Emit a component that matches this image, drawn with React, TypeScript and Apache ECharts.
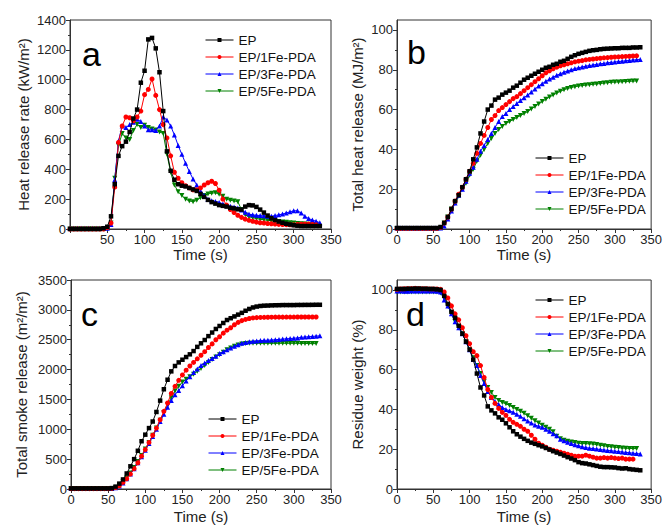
import React, { useEffect, useRef } from 'react';
import * as echarts from 'echarts';

const TIME = [0, 5, 10, 15, 20, 25, 30, 35, 40, 45, 50, 55, 60, 65, 70, 75, 80, 85, 90, 95, 100, 105, 110, 115, 120, 125, 130, 135, 140, 145, 150, 155, 160, 165, 170, 175, 180, 185, 190, 195, 200, 205, 210, 215, 220, 225, 230, 235, 240, 245, 250, 255, 260, 265, 270, 275, 280, 285, 290, 295, 300, 305, 310, 315, 320, 325, 330, 335];

const NAMES = ['EP', 'EP/1Fe-PDA', 'EP/3Fe-PDA', 'EP/5Fe-PDA'];
const COLORS = ['#000000', '#ff0000', '#0000ff', '#008000'];
const SYMBOLS = ['rect', 'circle', 'triangle', 'triangle'];
const ROTATE = [0, 0, 0, 180];

// (a) Heat release rate (kW/m2)
const HRR_EP = [
  0, 0, 0, 0, 0, 0, 0, 0, 0, 5,
  15, 85, 300, 490, 555, 585, 650, 740, 800, 980,
  1060, 1270, 1280, 1210, 1050, 790, 520, 390, 330, 300,
  290, 285, 275, 265, 255, 235, 215, 195, 180, 170,
  160, 155, 150, 142, 138, 132, 130, 150, 160, 158,
  148, 130, 110, 90, 72, 60, 50, 42, 35, 30,
  25, 22, 20, 20, 20, 20, 20, 20];
const HRR_1FE = [
  0, 0, 0, 0, 0, 0, 0, 0, 0, 0,
  10, 40, 280, 580, 690, 750, 745, 725, 750, 790,
  900, 935, 1005, 895, 800, 700, 610, 490, 380, 340,
  310, 290, 275, 262, 262, 275, 295, 310, 320, 305,
  260, 200, 160, 130, 110, 92, 78, 66, 58, 52,
  46, 42, 40, 37, 35, 33, 31, 30, 29, 28,
  28, 30, 32, 33, 33, 30, 28];
const HRR_3FE = [
  5, 5, 5, 5, 5, 5, 5, 5, 5, 5,
  5, 30, 330, 590, 690, 680, 700, 715, 735, 720,
  690, 665, 665, 660, 690, 750, 730, 690, 630, 560,
  500, 440, 385, 335, 295, 255, 225, 200, 190, 185,
  178, 168, 158, 152, 148, 140, 128, 112, 100, 95,
  92, 90, 88, 86, 86, 90, 95, 100, 108, 115,
  122, 122, 108, 85, 70, 60, 52, 42];
const HRR_5FE = [
  0, 0, 0, 0, 0, 0, 0, 0, 0, 0,
  0, 40, 340, 560, 640, 610, 600, 660, 700, 680,
  695, 680, 670, 663, 650, 640, 500, 380, 295, 250,
  225, 200, 188, 183, 192, 210, 225, 235, 240, 243,
  232, 220, 200, 192, 188, 183, 130, 95, 82, 76,
  70, 65, 62, 58, 55, 52, 50, 47, 45, 42,
  40, 37, 35, 33, 32, 30, 30];

// (b) Total heat release (MJ/m2)
const THR_EP = [
  0.5, 0.5, 0.5, 0.5, 0.5, 0.5, 0.5, 0.5, 0.5, 0.5,
  0.5, 0.5, 1, 3, 6, 10, 14, 17, 21, 25,
  29, 35, 41, 48, 54, 60, 62, 65, 66, 67.5,
  68.5, 69.5, 71, 72, 73.5, 75, 76, 77, 78, 79,
  80, 81, 81.5, 82.5, 83, 84, 84.5, 85.5, 86.5, 87.3,
  88, 88.5, 89, 89.5, 89.8, 90, 90.3, 90.5, 90.6, 90.7,
  90.8, 90.8, 91, 91, 91, 91.2, 91.2, 91.3];
const THR_1FE = [
  0.3, 0.3, 0.3, 0.3, 0.3, 0.3, 0.3, 0.3, 0.3, 0.3,
  0.3, 0.3, 0.8, 3, 6, 10, 14, 17.5, 21, 25,
  29, 33, 38, 43, 47, 51, 55, 57, 59.5, 61,
  62.5, 64, 65.5, 66.5, 68, 69.5, 71, 72.5, 74, 75.5,
  77, 78.5, 79.5, 80.5, 81.3, 82, 82.5, 83, 83.5, 84,
  84.3, 84.6, 85, 85.2, 85.4, 85.6, 85.8, 86, 86.1, 86.3,
  86.4, 86.5, 86.6, 86.7, 86.8, 86.9, 87];
const THR_3FE = [
  0.5, 0.5, 0.5, 0.5, 0.5, 0.5, 0.5, 0.5, 0.5, 0.5,
  0.5, 0.5, 0.5, 1.5, 5, 9, 13, 17, 20, 24,
  28, 31, 35, 39, 42, 45, 48, 51, 54, 56.5,
  58, 60, 61.5, 63, 64.5, 66, 67.3, 68.8, 70.3, 71.8,
  73, 74.2, 75.3, 76.3, 77.2, 78, 78.8, 79.4, 80, 80.6,
  81, 81.4, 81.8, 82.1, 82.4, 82.7, 83, 83.2, 83.5, 83.7,
  83.9, 84.1, 84.3, 84.5, 84.7, 84.9, 85, 85.2];
const THR_5FE = [
  0.3, 0.3, 0.3, 0.3, 0.3, 0.3, 0.3, 0.3, 0.3, 0.3,
  0.3, 0.3, 0.5, 3, 6, 10, 13, 16.5, 20, 23,
  27, 30, 34, 37, 40, 43, 45.5, 48, 50, 51.5,
  53, 54, 55, 56, 57, 58, 59, 60.3, 61.5, 62.8,
  64, 65.2, 66.3, 67.3, 68.3, 69.2, 70, 70.6, 71.1, 71.5,
  71.8, 72.1, 72.3, 72.5, 72.7, 72.9, 73.1, 73.3, 73.5, 73.7,
  73.8, 73.9, 74, 74.1, 74.2, 74.3, 74.4];

// (c) Total smoke release (m2/m2)
const TSR_EP = [
  10, 10, 10, 10, 10, 10, 10, 10, 10, 10,
  10, 15, 40, 90, 160, 260, 380, 500, 640, 800,
  910, 1020, 1130, 1290, 1480, 1670, 1830, 1970, 2060, 2120,
  2165, 2210, 2255, 2310, 2380, 2440, 2495, 2560, 2620, 2680,
  2730, 2780, 2830, 2860, 2890, 2920, 2950, 2985, 3015, 3040,
  3055, 3065, 3070, 3072, 3075, 3077, 3078, 3080, 3080, 3080,
  3080, 3082, 3082, 3083, 3083, 3084, 3085, 3085];
const TSR_1FE = [
  5, 5, 5, 5, 5, 5, 5, 5, 5, 5,
  5, 10, 25, 55, 110, 170, 250, 340, 440, 550,
  660, 780, 900, 1020, 1160, 1300, 1440, 1600, 1720, 1820,
  1910, 1990, 2060, 2120, 2180, 2240, 2300, 2370, 2430, 2500,
  2550, 2610, 2660, 2700, 2750, 2790, 2820, 2840, 2855, 2865,
  2870, 2873, 2875, 2876, 2877, 2878, 2878, 2878, 2879, 2879,
  2879, 2880, 2880, 2880, 2880, 2880, 2880];
const TSR_3FE = [
  10, 10, 10, 10, 10, 10, 10, 10, 10, 10,
  10, 10, 20, 50, 100, 170, 250, 340, 440, 540,
  650, 760, 880, 1000, 1130, 1250, 1370, 1480, 1580, 1650,
  1730, 1810, 1880, 1950, 2010, 2070, 2110, 2150, 2185, 2225,
  2270, 2300, 2330, 2360, 2390, 2415, 2440, 2455, 2465, 2475,
  2480, 2485, 2490, 2492, 2495, 2500, 2505, 2510, 2515, 2520,
  2525, 2530, 2540, 2545, 2550, 2555, 2560, 2565];
const TSR_5FE = [
  10, 10, 10, 10, 10, 10, 10, 10, 10, 10,
  10, 10, 20, 60, 120, 190, 270, 360, 460, 560,
  670, 780, 900, 1020, 1150, 1280, 1410, 1530, 1640, 1720,
  1790, 1840, 1880, 1920, 1970, 2020, 2070, 2120, 2170, 2210,
  2250, 2290, 2330, 2360, 2390, 2410, 2430, 2435, 2440, 2440,
  2440, 2440, 2440, 2440, 2440, 2440, 2440, 2440, 2440, 2440,
  2440, 2440, 2438, 2438, 2436, 2435, 2435];

// (d) Residue weight (%)
const RW_EP = [
  100.5, 100.5, 100.5, 100.6, 100.6, 100.7, 100.7, 100.6, 100.6, 100.5,
  100.5, 100.3, 100, 97, 93, 89, 86, 82, 78, 74,
  70, 65, 58, 51, 47, 41.5, 39.5, 38, 36, 34.8,
  33, 31, 29, 27.5, 26.3, 25.2, 24.2, 23.3, 22.7, 22,
  21.4, 20.6, 19.8, 19, 18.3, 17.6, 16.8, 16, 15.3, 14.5,
  13.5, 13, 12.8, 12.4, 12, 11.6, 11.2, 11, 11, 10.9,
  10.8, 10.5, 10.3, 10.4, 10, 9.8, 9.6, 9.4];
const RW_1FE = [
  100.3, 100.5, 100.6, 100.7, 100.7, 100.8, 100.7, 100.6, 100.6, 100.5,
  100.5, 100.5, 100.3, 99, 96, 92, 88, 85, 81, 77,
  73, 69, 67, 62, 56, 50, 46, 43, 40.5, 38.5,
  37, 35, 33.5, 32.5, 31.5, 30, 29, 27, 25, 23,
  22, 21, 20, 19.5, 19, 18.5, 18, 17.5, 17, 16.5,
  16.5, 16.5, 17, 16.5, 16, 15.5, 15.5, 15.8, 15.5, 15.8,
  15.5, 15.3, 15.5, 15, 15, 15];
const RW_3FE = [
  99.5, 99.5, 99.3, 99.3, 99.5, 99.5, 99.5, 99.5, 99.5, 99.5,
  99.5, 99.3, 99, 95, 92, 88, 84, 81, 78, 74,
  70, 65, 62, 57, 53, 49, 46, 44, 42.5, 41,
  40, 39.3, 38.5, 37.5, 36.5, 35.3, 34.2, 33.2, 32.2, 31.5,
  31, 30, 29, 27.8, 26.8, 25, 24.2, 23.5, 22.8, 22.2,
  21.7, 21.2, 20.8, 20.5, 20.3, 20.1, 19.8, 19.6, 19.4, 19.2,
  19, 18.8, 18.6, 18.4, 18.2, 18, 17.8, 17.6];
const RW_5FE = [
  99, 99, 99, 99, 99, 99, 99, 99, 99, 99,
  99, 99, 98.5, 96, 92, 88, 84, 81, 78, 74,
  70, 66, 62, 58, 54, 51, 48.5, 46, 44.5, 43.5,
  42.8, 42, 41, 40, 39, 38, 36.8, 35.5, 34.3, 33.2,
  32, 31, 30, 28.8, 26.5, 25.3, 24.5, 24, 23.6, 23.3,
  23, 22.8, 22.8, 22.7, 22.6, 22.3, 22, 21.7, 21.4, 21.2,
  21, 20.8, 20.6, 20.5, 20.4, 20.3, 20.3];

const PANELS = [
  { letter: 'a', yName: 'Heat release rate (kW/m\u00B2)', yMax: 1400, yInterval: 200, series: [HRR_EP, HRR_1FE, HRR_3FE, HRR_5FE] },
  { letter: 'b', yName: 'Total heat release (MJ/m\u00B2)', yMax: 105, yInterval: 20, series: [THR_EP, THR_1FE, THR_3FE, THR_5FE] },
  { letter: 'c', yName: 'Total smoke release (m\u00B2/m\u00B2)', yMax: 3500, yInterval: 500, series: [TSR_EP, TSR_1FE, TSR_3FE, TSR_5FE] },
  { letter: 'd', yName: 'Residue weight (%)', yMax: 105, yInterval: 20, series: [RW_EP, RW_1FE, RW_3FE, RW_5FE] },
];
const Y_TICKS_100 = [0, 20, 40, 60, 80, 100];

const FONT = "'Liberation Sans', Arial, sans-serif";
const AXIS_COLOR = '#333333';
const TEXT_COLOR = '#222222';

const GRIDS = [
  { left: 70, top: 20, width: 261, height: 209 },
  { left: 397, top: 20, width: 258, height: 209 },
  { left: 71, top: 280, width: 260, height: 209 },
  { left: 397, top: 280, width: 258, height: 209 },
];
const Y_NAME_GAP = [39, 32, 42, 32];
const X_NAME_GAP = [18, 18, 20, 20];
const LEGEND_POS = [
  { left: 205, top: 33 },
  { left: 535, top: 151 },
  { left: 208, top: 412 },
  { left: 535, top: 293 },
];
const LETTER_POS = [
  { x: 82, y: 54 },
  { x: 407, y: 52 },
  { x: 81, y: 314 },
  { x: 406, y: 314 },
];

function buildOption() {
  const grid = GRIDS.map((g) => ({
    ...g,
    show: true,
    borderColor: AXIS_COLOR,
    borderWidth: 1,
    backgroundColor: 'transparent',
  }));

  const xAxis = PANELS.map((p, i) => ({
    type: 'value',
    gridIndex: i,
    min: 0,
    max: 350,
    interval: 50,
    name: 'Time (s)',
    nameLocation: 'middle',
    nameGap: X_NAME_GAP[i],
    nameTextStyle: { fontSize: 15, color: TEXT_COLOR, fontFamily: FONT },
    axisLine: { show: true, lineStyle: { color: AXIS_COLOR, width: 1 } },
    axisTick: { show: true, inside: false, length: 4, lineStyle: { color: AXIS_COLOR, width: 1 } },
    minorTick: { show: true, splitNumber: 2, length: 2, lineStyle: { color: AXIS_COLOR, width: 1 } },
    splitLine: { show: false },
    axisLabel: {
      fontSize: 13,
      color: TEXT_COLOR,
      fontFamily: FONT,
      margin: 4,
      formatter: (v: number) => (i === 0 && v === 0 ? '' : String(v)),
    },
  }));

  const yAxis = PANELS.map((p, i) => {
    const is100 = p.yMax === 105;
    return {
      type: 'value',
      gridIndex: i,
      min: 0,
      max: p.yMax,
      interval: p.yInterval,
      name: p.yName,
      nameLocation: 'middle',
      nameGap: Y_NAME_GAP[i],
      nameRotate: 90,
      nameTextStyle: { fontSize: 15, color: TEXT_COLOR, fontFamily: FONT },
      axisLine: { show: true, lineStyle: { color: AXIS_COLOR, width: 1 } },
      axisTick: {
        show: true,
        inside: false,
        length: 4,
        lineStyle: { color: AXIS_COLOR, width: 1 },
        ...(is100 ? { customValues: Y_TICKS_100 } : {}),
      },
      minorTick: { show: true, splitNumber: 2, length: 2, lineStyle: { color: AXIS_COLOR, width: 1 } },
      splitLine: { show: false },
      axisLabel: {
        fontSize: 13,
        color: TEXT_COLOR,
        fontFamily: FONT,
        margin: 4,
        formatter: (v: number) => String(v),
        ...(is100 ? { customValues: Y_TICKS_100 } : {}),
      },
    };
  });

  const series: any[] = [];
  PANELS.forEach((p, i) => {
    p.series.forEach((vals, k) => {
      series.push({
        type: 'line',
        name: NAMES[k],
        xAxisIndex: i,
        yAxisIndex: i,
        data: vals.map((v, j) => [TIME[j], v]),
        symbol: SYMBOLS[k],
        symbolSize: k === 0 ? 4.5 : 5,
        symbolRotate: ROTATE[k],
        showSymbol: true,
        showAllSymbol: true,
        lineStyle: { color: COLORS[k], width: 1 },
        itemStyle: { color: COLORS[k] },
        z: 10 - k,
      });
    });
  });

  const legend = LEGEND_POS.map((pos) => ({
    ...pos,
    orient: 'vertical',
    padding: 0,
    itemWidth: 28,
    itemHeight: 5,
    itemGap: 3,
    data: NAMES,
    selectedMode: false,
    lineStyle: { width: 1 },
    textStyle: { fontSize: 13.5, color: '#111111', fontFamily: FONT, lineHeight: 14 },
  }));

  const graphic = PANELS.map((p, i) => ({
    type: 'text',
    x: LETTER_POS[i].x,
    y: LETTER_POS[i].y,
    z: 100,
    style: {
      text: p.letter,
      fontSize: 34,
      fontFamily: FONT,
      fill: '#000000',
      verticalAlign: 'middle',
      align: 'left',
    },
  }));

  return {
    animation: false,
    backgroundColor: '#ffffff',
    grid,
    xAxis,
    yAxis,
    series,
    legend,
    graphic,
  };
}

export default function App() {
  const ref = useRef<HTMLDivElement>(null);
  useEffect(() => {
    if (!ref.current) return;
    const chart = echarts.init(ref.current, null, { renderer: 'svg' });
    chart.setOption(buildOption() as any);
    return () => {
      chart.dispose();
    };
  }, []);
  return (
    <div
      ref={ref}
      style={{ position: 'fixed', left: 0, top: 0, width: 665, height: 530, background: '#fff' }}
    />
  );
}
